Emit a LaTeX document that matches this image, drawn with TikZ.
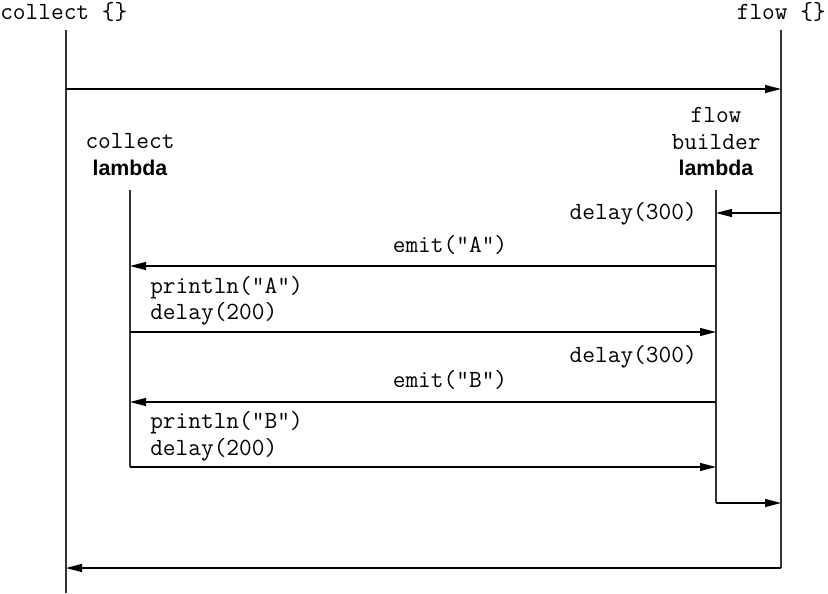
\documentclass[tikz,border=0pt]{standalone}
\usepackage{fontspec}
\setmainfont{Liberation Sans}
\usetikzlibrary{arrows.meta}
\definecolor{ln}{HTML}{333333}
\tikzset{
  code/.style={font=\ttfamily\fontsize{18.5}{21}\selectfont, inner sep=0pt, anchor=base},
  bold/.style={font=\bfseries\fontsize{16}{19}\selectfont, inner sep=0pt, anchor=base},
  life/.style={draw=ln, line width=1.3pt},
  msg/.style={draw=black, line width=1pt, -{Triangle[length=12pt,width=6pt]}}
}
\begin{document}
\begin{tikzpicture}[x=0.75pt,y=-0.75pt]
\useasboundingbox (0,0) rectangle (828,593);
% headers
\node[code, anchor=base west] (hcol) at (0,19) {collect \{\}};
\node[code, anchor=base east] (hflow) at (826,19) {flow \{\}};
\node[code] (lcol1) at (130,148) {collect};
\node[bold] (lcol2) at (130,175) {lambda};
\node[code] (lfb1) at (716,122) {flow};
\node[code] (lfb2) at (716,149) {builder};
\node[bold] (lfb3) at (716,175) {lambda};
% lifeline coordinates
\coordinate (C0) at (66,30);  \coordinate (C1) at (66,593);
\coordinate (F0) at (781,30); \coordinate (F1) at (781,568);
\coordinate (L0) at (130,190); \coordinate (L1) at (130,467);
\coordinate (B0) at (716,190); \coordinate (B1) at (716,503);
\draw[life] (C0) -- (C1);
\draw[life] (F0) -- (F1);
\draw[life] (L0) -- (L1);
\draw[life] (B0) -- (B1);
% messages
\coordinate (a1) at (66,89);  \coordinate (a2) at (781,89);
\draw[msg] (a1) -- (a2);
\coordinate (b1) at (781,213); \coordinate (b2) at (716,213);
\draw[msg] (b1) -- (b2);
\node[code, anchor=base east] (d1) at (697,219) {delay(300)};
\node[code] (e1) at (450,252) {emit("A")};
\coordinate (c1) at (716,266); \coordinate (c2) at (130,266);
\draw[msg] (c1) -- (c2);
\node[code, anchor=base west] (p1) at (150,293) {println("A")};
\node[code, anchor=base west] (p2) at (150,319) {delay(200)};
\coordinate (d1a) at (130,332); \coordinate (d2a) at (716,332);
\draw[msg] (d1a) -- (d2a);
\node[code, anchor=base east] (d2) at (697,362) {delay(300)};
\node[code] (e2) at (450,387) {emit("B")};
\coordinate (f1) at (716,402); \coordinate (f2) at (130,402);
\draw[msg] (f1) -- (f2);
\node[code, anchor=base west] (p3) at (150,428) {println("B")};
\node[code, anchor=base west] (p4) at (150,455) {delay(200)};
\coordinate (g1) at (130,467); \coordinate (g2) at (716,467);
\draw[msg] (g1) -- (g2);
\coordinate (h1) at (716,503); \coordinate (h2) at (781,503);
\draw[msg] (h1) -- (h2);
\coordinate (i1) at (781,568); \coordinate (i2) at (66,568);
\draw[msg] (i1) -- (i2);
\end{tikzpicture}
\end{document}
